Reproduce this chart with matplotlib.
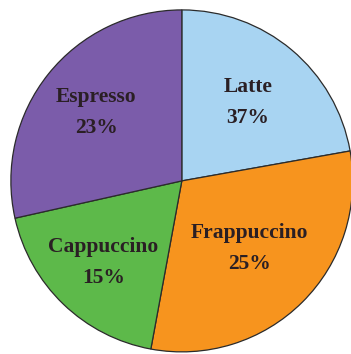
import matplotlib.pyplot as plt
import numpy as np

# categories and values
drinks = ["Latte", "Frappuccino", "Cappuccino", "Espresso"]
pct_text = ["37%", "25%", "15%", "23%"]
# wedge sizes as drawn in the picture (share of the circle, %)
drawn_share = [22.2, 30.7, 18.6, 28.5]
colors = ["#A8D4F2", "#F7941E", "#5DB94A", "#7B5CAA"]
label_r = [0.60, 0.56, 0.66, 0.64]

fig = plt.figure(figsize=(3.51, 3.54), dpi=100)
ax = fig.add_axes([0.031, 0.006, 0.974, 0.966])

wedges, _ = ax.pie(drawn_share, colors=colors, startangle=90, counterclock=False,
                   radius=1.0,
                   wedgeprops=dict(edgecolor="#2b2b2b", linewidth=0.9))

for w, name, pct, r in zip(wedges, drinks, pct_text, label_r):
    mid = np.deg2rad((w.theta1 + w.theta2) / 2)
    ax.text(r * np.cos(mid), r * np.sin(mid), f"{name}\n{pct}",
            ha="center", va="center", fontsize=15.5, fontweight="bold",
            family="Liberation Serif", color="#2a1f24", linespacing=1.75)

ax.set_xlim(-1, 1)
ax.set_ylim(-1, 1)
ax.set_aspect("auto")
ax.axis("off")

fig.savefig("out.png", dpi=100)
